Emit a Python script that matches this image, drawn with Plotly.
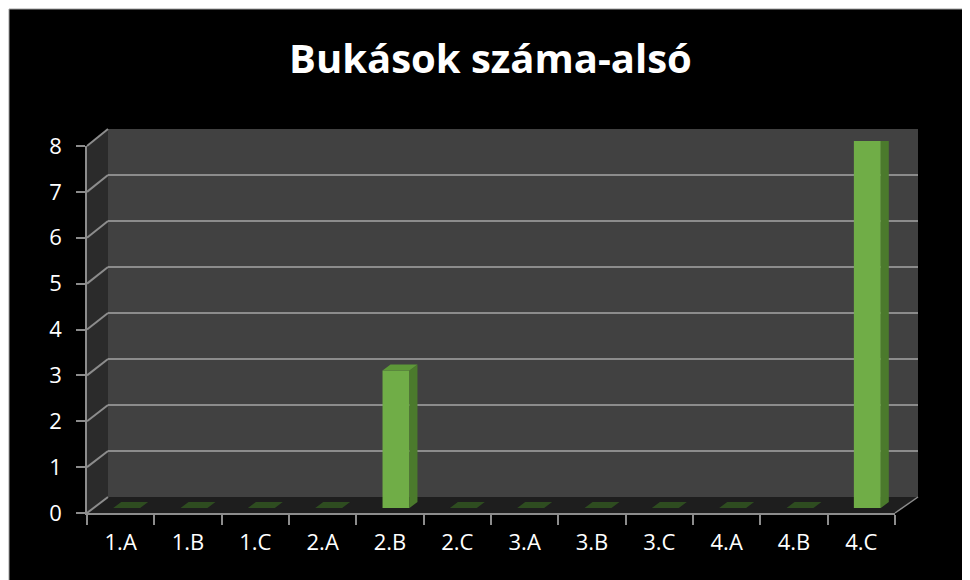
import plotly.graph_objects as go

categories = ["1.A", "1.B", "1.C", "2.A", "2.B", "2.C", "3.A", "3.B", "3.C", "4.A", "4.B", "4.C"]
values = [0, 0, 0, 0, 3, 0, 0, 0, 0, 0, 0, 8]
y_ticks = [0, 1, 2, 3, 4, 5, 6, 7, 8]
title_text = "Bukások száma-alsó"

O = 8                 # page body margin
W, H = 970 - O, 580 - O
FONT = "Open Sans"


def px(x):
    return (x - O) / W


def py(y):
    return 1 - (y - O) / H


# pixel geometry of the 3D box (window pixel coordinates)
FL, FR, FB, FT = 87, 895, 513, 146      # front axis plane
BL, BR, BB, BT = 108, 918, 497, 129     # back wall
SL, SR, SB, ST = 93, 901, 508, 141      # bar plane

n = len(categories)
ymax = 8
xr = [-0.5, n - 0.5]

fig = go.Figure()

bar_w = 0.4
unit_x = (SR - SL) / n
unit_y = (SB - ST) / ymax
dx = 8 / unit_x
dy = 6 / unit_y

side_x, side_y, top_x, top_y, flat_x, flat_y = [], [], [], [], [], []
for i, v in enumerate(values):
    l, r = i - bar_w / 2, i + bar_w / 2
    tx = [l, l + dx, r + dx, r, l, None]
    ty = [v, v + dy, v + dy, v, v, None]
    if v > 0:
        side_x += [r, r + dx, r + dx, r, r, None]
        side_y += [0, dy, v + dy, v, 0, None]
        top_x += tx
        top_y += ty
    else:
        flat_x += tx
        flat_y += ty

fig.add_trace(go.Scatter(x=flat_x, y=flat_y, xaxis="x3", yaxis="y3", mode="lines",
                         fill="toself", fillcolor="#2e4c20", line=dict(width=0),
                         hoverinfo="skip", showlegend=False))
fig.add_trace(go.Scatter(x=side_x, y=side_y, xaxis="x3", yaxis="y3", mode="lines",
                         fill="toself", fillcolor="#4b7a2c", line=dict(width=0),
                         hoverinfo="skip", showlegend=False))
fig.add_trace(go.Scatter(x=top_x, y=top_y, xaxis="x3", yaxis="y3", mode="lines",
                         fill="toself", fillcolor="#5d9838", line=dict(width=0),
                         hoverinfo="skip", showlegend=False))
fig.add_trace(go.Bar(x=list(range(n)), y=values, width=bar_w, xaxis="x3", yaxis="y3",
                     marker=dict(color="#70ad47", line=dict(width=0)),
                     showlegend=False))

fig.add_trace(go.Scatter(x=[0], y=[0], mode="markers", marker=dict(opacity=0),
                         hoverinfo="skip", showlegend=False))
fig.add_trace(go.Scatter(x=[0], y=[0], xaxis="x2", yaxis="y2", mode="markers",
                         marker=dict(opacity=0), hoverinfo="skip", showlegend=False))

grid_col = "#8c8c8c"
shapes = [
    dict(type="rect", xref="paper", yref="paper", x0=px(9), x1=1.02, y0=-0.02, y1=py(9),
         fillcolor="#000000", line=dict(color="#a0a0a0", width=1), layer="below"),
    dict(type="rect", xref="paper", yref="paper", x0=px(BL), x1=px(BR), y0=py(BB), y1=py(BT),
         fillcolor="#414141", line=dict(width=0), layer="below"),
    dict(type="path", xref="paper", yref="paper",
         path=f"M {px(FL)},{py(FB)} L {px(FL)},{py(FT)} L {px(BL)},{py(BT)} L {px(BL)},{py(BB)} Z",
         fillcolor="#2b2b2b", line=dict(width=0), layer="below"),
    dict(type="path", xref="paper", yref="paper",
         path=f"M {px(FL)},{py(FB)} L {px(BL)},{py(BB)} L {px(BR)},{py(BB)} L {px(FR)},{py(FB)} Z",
         fillcolor="#1e1e1e", line=dict(width=0), layer="below"),
    dict(type="line", xref="paper", yref="paper", x0=px(FR), y0=py(FB), x1=px(BR), y1=py(BB),
         line=dict(color=grid_col, width=1.5), layer="below"),
]
for k in y_ticks:
    yf = FB - (FB - FT) * k / ymax
    yb = BB - (BB - BT) * k / ymax
    shapes.append(dict(type="line", xref="paper", yref="paper", x0=px(FL), y0=py(yf),
                       x1=px(BL), y1=py(yb), line=dict(color=grid_col, width=2), layer="below"))

fig.update_layout(
    width=W, height=H,
    autosize=False,
    margin=dict(l=0, r=0, t=0, b=0, pad=0),
    paper_bgcolor="#ffffff",
    plot_bgcolor="rgba(0,0,0,0)",
    shapes=shapes,
    showlegend=False,
    annotations=[dict(text=f"<b>{title_text}</b>", x=px(490), y=py(58), xref="paper", yref="paper",
                      showarrow=False, font=dict(family=FONT, size=40, color="#ffffff"),
                      xanchor="center", yanchor="middle")],
    xaxis=dict(domain=[px(FL), px(FR)], range=xr, tickvals=list(range(n)), ticktext=categories,
               ticks="", showgrid=False, zeroline=False, showline=True, linecolor=grid_col,
               linewidth=1.5, tickfont=dict(family=FONT, size=22, color="#ffffff"),
               minor=dict(tickmode="array", tickvals=[i - 0.5 for i in range(n + 1)],
                          ticks="outside", ticklen=10, tickcolor=grid_col, tickwidth=1.5,
                          showgrid=False),
               anchor="y", fixedrange=True, ticklabelstandoff=9, automargin=False),
    yaxis=dict(domain=[py(FB), py(FT)], range=[0, ymax], tickvals=y_ticks,
               ticks="outside", ticklen=9, tickcolor=grid_col, tickwidth=1.5,
               showgrid=False, zeroline=False, showline=True, linecolor=grid_col, linewidth=1.5,
               tickfont=dict(family=FONT, size=22, color="#ffffff"), anchor="x",
               fixedrange=True, ticklabelstandoff=10, automargin=False),
    xaxis2=dict(domain=[px(BL), px(BR)], range=xr, visible=False, anchor="y2", fixedrange=True,
                automargin=False),
    yaxis2=dict(domain=[py(BB), py(BT)], range=[0, ymax], tickvals=y_ticks, showticklabels=False,
                ticks="", showgrid=True, gridcolor=grid_col, gridwidth=2, zeroline=False,
                showline=False, anchor="x2", fixedrange=True, automargin=False),
    xaxis3=dict(domain=[px(SL), px(SR)], range=xr, visible=False, anchor="y3", fixedrange=True,
                automargin=False),
    yaxis3=dict(domain=[py(SB), py(ST)], range=[0, ymax], visible=False, anchor="x3",
                fixedrange=True, automargin=False),
)

fig.write_html("out.html")
